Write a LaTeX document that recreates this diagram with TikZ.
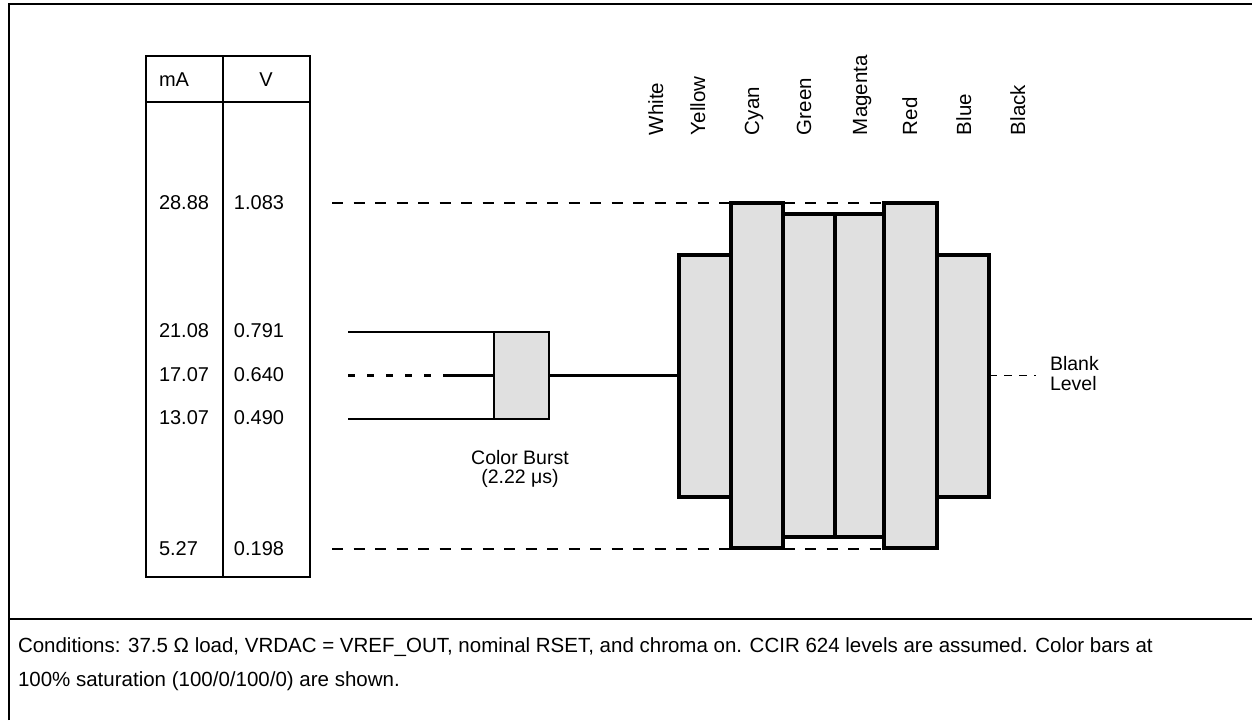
\documentclass[tikz,border=0pt]{standalone}
\usepackage{fontspec}
\setmainfont{Liberation Sans}
\begin{document}
\begin{tikzpicture}[x=1pt,y=-1pt,
  txt/.style={inner sep=0pt, outer sep=0pt, font=\fontsize{20}{24}\selectfont},
  colname/.style={txt, font=\fontsize{20.5}{24}\selectfont, rotate=90, anchor=base west},
  bar/.style={draw=black, line width=3.2pt, fill=black!12, inner sep=0pt, outer sep=0pt, anchor=north west},
  frameline/.style={line width=2pt},
  tableline/.style={line width=2.6pt},
  thinline/.style={line width=1.5pt},
  levelline/.style={line width=1.6pt, dash pattern=on 11pt off 10.5pt},
  burstdash/.style={line width=2.6pt, dash pattern=on 7pt off 12pt},
  blankdash/.style={line width=1.4pt, dash pattern=on 8pt off 7pt},
  blankline/.style={line width=3pt}]
\useasboundingbox (0,0) rectangle (1252,720);
% frame
\coordinate (ftl) at (9,4);
\coordinate (ftr) at (1252,4);
\coordinate (fbl) at (9,720);
\coordinate (fsl) at (9,619);
\coordinate (fsr) at (1252,619);
\draw[frameline] (fbl) -- (ftl) -- (ftr);
\draw[frameline] (fsl) -- (fsr);
% table
\node[draw, tableline, inner sep=0pt, outer sep=0pt, minimum width=164pt, minimum height=521pt, anchor=north west] (table) at (146,56) {};
\coordinate (hdl) at (146,102);
\coordinate (hdr) at (310,102);
\coordinate (dvt) at (223,56);
\coordinate (dvb) at (223,577);
\draw[tableline] (hdl) -- (hdr);
\draw[tableline] (dvt) -- (dvb);
\node[txt, anchor=west] (hmA) at (159,80) {mA};
\node[txt] (hV) at (266,80) {V};
\node[txt, anchor=west] (a1) at (159,203) {28.88};
\node[txt, anchor=east] (v1) at (284,203) {1.083};
\node[txt, anchor=west] (a2) at (159,331) {21.08};
\node[txt, anchor=east] (v2) at (284,331) {0.791};
\node[txt, anchor=west] (a3) at (159,375) {17.07};
\node[txt, anchor=east] (v3) at (284,375) {0.640};
\node[txt, anchor=west] (a4) at (159,418) {13.07};
\node[txt, anchor=east] (v4) at (284,418) {0.490};
\node[txt, anchor=west] (a5) at (159,549) {5.27};
\node[txt, anchor=east] (v5) at (284,549) {0.198};
% level lines (behind bars)
\coordinate (top0) at (332,203);
\coordinate (bot0) at (332,549);
\coordinate (topE) at (885,203);
\coordinate (botE) at (885,549);
\draw[levelline] (top0) -- (topE);
\draw[levelline] (bot0) -- (botE);
% colour bars
\node[bar, minimum width=52pt, minimum height=242pt] (yellow) at (679,255) {};
\node[bar, minimum width=52pt, minimum height=345pt] (cyan) at (731,203) {};
\node[bar, minimum width=52pt, minimum height=323pt] (green) at (783,214) {};
\node[bar, minimum width=51pt, minimum height=323pt] (magenta) at (835,214) {};
\node[bar, minimum width=53pt, minimum height=345pt] (red) at (884,203) {};
\node[bar, minimum width=52pt, minimum height=242pt] (blue) at (937,255) {};
% column names
\node[colname] (nWhite) at (663,135) {White};
\node[colname] (nYellow) at (705,135) {Yellow};
\node[colname] (nCyan) at (759,135) {Cyan};
\node[colname] (nGreen) at (811,135) {Green};
\node[colname] (nMagenta) at (867,135) {Magenta};
\node[colname] (nRed) at (917,135) {Red};
\node[colname] (nBlue) at (971,135) {Blue};
\node[colname] (nBlack) at (1025,135) {Black};
% colour burst
\node[bar, line width=2.8pt, minimum width=55pt, minimum height=87pt] (burst) at (494,332) {};
\coordinate (l1) at (348,332);
\coordinate (l3) at (348,419);
\coordinate (l2) at (348,375.5);
\coordinate (l2s) at (448,375.5);
\draw[thinline] (l1) -- (burst.north west);
\draw[thinline] (l3) -- (burst.south west);
\draw[burstdash] (l2) -- (l2s);
\draw[blankline] (l2s) -- (burst.west);
\draw[blankline] (burst.east) -- (yellow.west |- burst.east);
\node[txt, align=center, font=\fontsize{19.5}{19}\selectfont] (burstlbl) at (520,469) {Color Burst\\(2.22 μs)};
% blank level
\coordinate (blE) at (1036,375.5);
\draw[blankdash] (blue.east |- burst.east) -- (blE);
\node[txt, align=left, anchor=west, font=\fontsize{19.5}{19.5}\selectfont] (blank) at (1050,373.5) {Blank\\Level};
% caption
\node[txt, align=left, anchor=north west, font=\fontsize{20.5}{34}\selectfont] (caption) at (18,638) {Conditions: 37.5 Ω load, VRDAC = VREF\_OUT, nominal RSET, and chroma on. CCIR 624 levels are assumed. Color bars at\\100\% saturation (100/0/100/0) are shown.};
\end{tikzpicture}
\end{document}
